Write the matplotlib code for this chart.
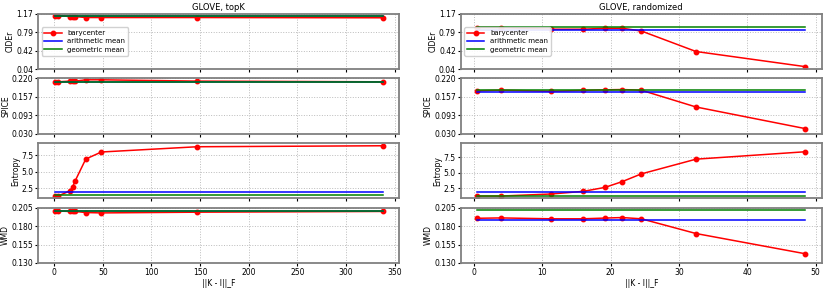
import matplotlib
matplotlib.use("Agg")
import matplotlib.pyplot as plt

# x values: ||K - I||_F
x_topk = [0.5, 4, 16, 19, 21.5, 32.5, 48.5, 147, 338]
x_rand = [0.5, 4, 11.3, 16, 19.2, 21.7, 24.5, 32.5, 48.5]

metrics = ["CIDEr", "SPICE", "Entropy", "WMD"]

# GLOVE, topK
topk_bary = {
    "CIDEr": [1.135, 1.135, 1.115, 1.115, 1.115, 1.095, 1.095, 1.095, 1.09],
    "SPICE": [0.2086, 0.2086, 0.211, 0.211, 0.211, 0.2155, 0.2155, 0.211, 0.2086],
    "Entropy": [1.35, 1.3, 2.08, 2.7, 3.58, 6.93, 8.0, 8.8, 8.95],
    "WMD": [0.2005, 0.2005, 0.200, 0.200, 0.200, 0.1985, 0.198, 0.199, 0.200],
}
topk_arith = {"CIDEr": 1.125, "SPICE": 0.208, "Entropy": 1.93, "WMD": 0.201}
topk_geom = {"CIDEr": 1.13, "SPICE": 0.208, "Entropy": 1.42, "WMD": 0.201}

# GLOVE, randomized
rand_bary = {
    "CIDEr": [0.89, 0.89, 0.856, 0.856, 0.876, 0.876, 0.82, 0.40, 0.09],
    "SPICE": [0.1775, 0.1797, 0.176, 0.179, 0.181, 0.182, 0.1797, 0.122, 0.0475],
    "Entropy": [1.27, 1.27, 1.6, 2.02, 2.66, 3.58, 4.82, 7.18, 8.37],
    "WMD": [0.1907, 0.1912, 0.190, 0.190, 0.191, 0.1917, 0.190, 0.170, 0.1425],
}
rand_arith = {"CIDEr": 0.845, "SPICE": 0.175, "Entropy": 1.92, "WMD": 0.1887}
rand_geom = {"CIDEr": 0.90, "SPICE": 0.181, "Entropy": 1.27, "WMD": 0.2016}

yticks = {
    "CIDEr": [0.04, 0.42, 0.79, 1.17],
    "SPICE": [0.030, 0.093, 0.157, 0.220],
    "WMD": [0.130, 0.155, 0.180, 0.205],
}
ytick_fmt = {"CIDEr": "{:.2f}", "SPICE": "{:.3f}", "WMD": "{:.3f}"}
entropy_lim = [(0.95, 9.35), (0.9, 9.75)]

fig, axes = plt.subplots(4, 2, figsize=(8.31, 2.89), dpi=100, sharex="col")
fig.subplots_adjust(left=0.046, right=0.989, top=0.952, bottom=0.09,
                    wspace=0.17, hspace=0.17)

columns = [
    ("GLOVE, topK", x_topk, topk_bary, topk_arith, topk_geom, [0, 50, 100, 150, 200, 250, 300, 350]),
    ("GLOVE, randomized", x_rand, rand_bary, rand_arith, rand_geom, [0, 10, 20, 30, 40, 50]),
]

for c, (title, xs, bary, arith, geom, xt) in enumerate(columns):
    for r, m in enumerate(metrics):
        ax = axes[r, c]
        ax.plot(xs, bary[m], "-o", color="red", lw=1.1, ms=3.2, label="barycenter")
        ax.plot([xs[0], xs[-1]], [arith[m]] * 2, color="blue", lw=1.1, label="arithmetic mean")
        ax.plot([xs[0], xs[-1]], [geom[m]] * 2, color="green", lw=1.1, label="geometric mean")
        ax.set_ylabel(m, fontsize=5.5, labelpad=1)
        if m in yticks:
            ax.set_ylim(yticks[m][0], yticks[m][-1])
            ax.set_yticks(yticks[m])
            ax.set_yticklabels([ytick_fmt[m].format(v) for v in yticks[m]])
        else:
            ax.set_ylim(*entropy_lim[c])
            ax.set_yticks([2.5, 5.0, 7.5])
        ax.grid(True, linestyle=":", color="#bbbbbb", lw=0.7)
        ax.tick_params(axis="both", labelsize=5.5, length=2.5, pad=1)
        for s in ax.spines.values():
            s.set_color("gray")
            s.set_linewidth(1.3)
        if r == 0:
            ax.set_title(title, fontsize=6, pad=3)
            ax.legend(loc="center left", fontsize=5, handlelength=2.5,
                      borderpad=0.4, labelspacing=0.35, framealpha=0.9)
        if r == 3:
            ax.set_xticks(xt)
            ax.set_xlabel("||K - I||_F", fontsize=5.5, labelpad=1.5)

fig.savefig("out.png", dpi=100)
